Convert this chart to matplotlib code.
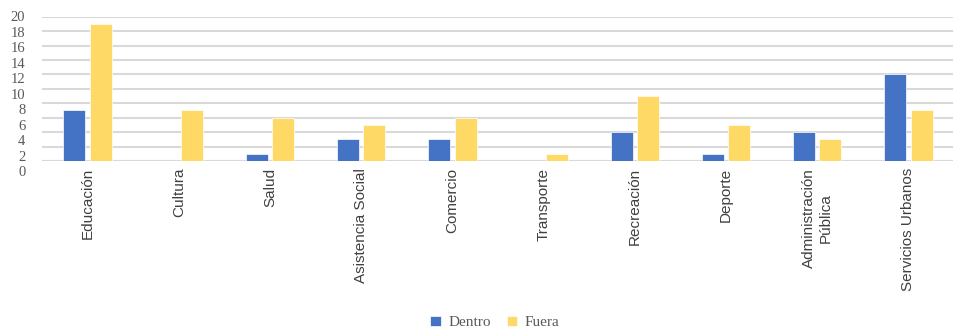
#!/usr/bin/env python3
"""Bar chart: equipamientos dentro / fuera, por categoria."""
import matplotlib

matplotlib.use("Agg")
import matplotlib.pyplot as plt
import matplotlib.transforms as mtransforms
import numpy as np

categorias = [
    "Educación", "Cultura", "Salud", "Asistencia Social", "Comercio",
    "Transporte", "Recreación", "Deporte", "Administración\nPública",
    "Servicios Urbanos",
]
dentro = [7, 0, 1, 3, 3, 0, 4, 1, 4, 12]
fuera = [19, 7, 6, 5, 6, 1, 9, 5, 3, 7]
yticks = list(range(0, 21, 2))

C_DENTRO = "#4472C4"
C_FUERA = "#FFD966"
C_GRID = "#D9D9D9"
C_TEXT = "#595959"

W, H = 954, 333
fig = plt.figure(figsize=(W / 100, H / 100), dpi=100)
ax = fig.add_axes([42 / W, 1 - 161 / H, (954 - 42) / W, (161 - 16.7) / H])

x = np.arange(len(categorias))
bw = 0.24
ax.bar(x - 0.145, dentro, bw, color=C_DENTRO, edgecolor="white", linewidth=0.5,
       label="Dentro", zorder=3)
ax.bar(x + 0.145, fuera, bw, color=C_FUERA, edgecolor="white", linewidth=0.5,
       label="Fuera", zorder=3)

ax.set_xlim(-0.5, len(categorias) - 0.5)
ax.set_ylim(0, 20)
ax.set_yticks(yticks)
ax.set_yticklabels([str(v) for v in yticks], family="Liberation Serif",
                   fontsize=10.5, color=C_TEXT)
ax.yaxis.grid(True, color=C_GRID, linewidth=1.5, zorder=0)
ax.set_axisbelow(True)
for s in ax.spines.values():
    s.set_visible(False)
ax.axhline(0, color=C_GRID, linewidth=2.2, zorder=1)
ax.tick_params(axis="y", length=0, pad=12)
ax.tick_params(axis="x", length=0, pad=5)

ax.set_xticks(x)
ax.set_xticklabels(categorias, rotation=90, family="Liberation Sans",
                   fontsize=11, color="#404040", va="top", ha="center",
                   multialignment="center")

# the y labels in the source sit a bit off their gridlines (10 px at 0, ~0 at 20)
for lbl, v in zip(ax.get_yticklabels(), yticks):
    dy = -(10 - 0.53 * v) / 100
    lbl.set_transform(lbl.get_transform() +
                      mtransforms.ScaledTranslation(0, dy, fig.dpi_scale_trans))

fig.legend(loc="center", bbox_to_anchor=(495 / W, 1 - 322.5 / H), ncol=2,
           frameon=False, prop={"family": "Liberation Serif", "size": 11},
           labelcolor=C_TEXT, handlelength=0.7, handleheight=0.7,
           handletextpad=0.5, columnspacing=1.0)

fig.savefig("out.png", dpi=100)
